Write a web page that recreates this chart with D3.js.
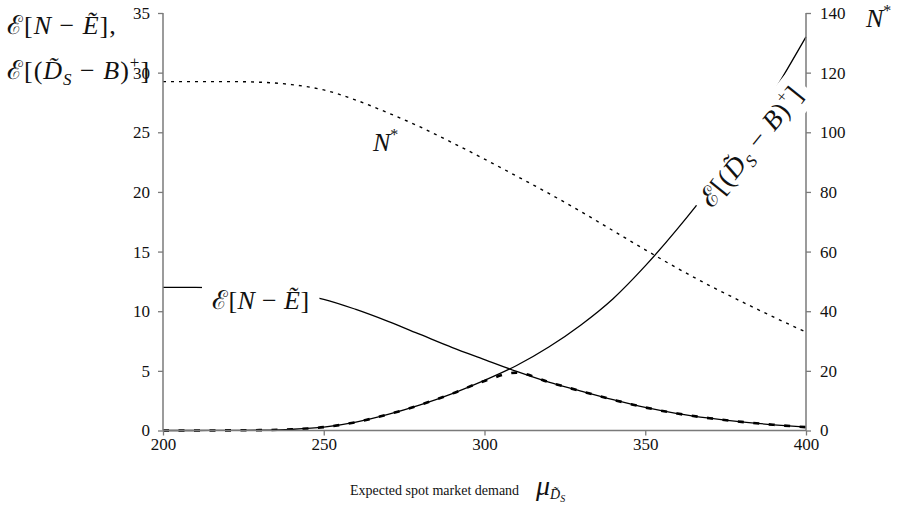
<!DOCTYPE html>
<html>
<head>
<meta charset="utf-8">
<script src="https://cdn.jsdelivr.net/npm/d3@7"></script>
<style>
  html, body { margin: 0; padding: 0; background: #fff; }
  svg { display: block; }
  text { font-family: "Liberation Serif", "DejaVu Serif", serif; fill: #111; }
</style>
</head>
<body>
<svg id="chart" width="897" height="510"></svg>
<script>
// Expected spot market demand (x values)
const demand = [200,210,220,230,240,250,260,270,280,290,300,310,320,330,340,350,360,370,380,390,400];
// E[N - Ẽ]  (left axis)
const expShortfall = [12.0,12.0,11.95,11.8,11.5,11.0,10.15,9.15,8.05,6.95,5.95,4.95,4.05,3.3,2.58,1.93,1.42,1.03,0.72,0.48,0.28];
// E[(D̃s - B)+]  (left axis)
const expExcess = [0,0,0.01,0.03,0.1,0.28,0.7,1.35,2.15,3.1,4.2,5.45,7.0,8.85,11.05,13.8,16.9,20.3,24.15,28.4,33.0];
// lower envelope of the two expectations (left axis)
const expLower = [0,0,0.01,0.03,0.1,0.28,0.7,1.35,2.15,3.1,4.15,4.85,4.05,3.3,2.58,1.93,1.42,1.03,0.72,0.48,0.28];
// optimal N* (right axis)
const nStar = [117,117,117,116.8,116,114.2,110.8,106.5,101.8,96.5,91,85.3,79.5,73.4,67.0,60.6,54.4,48.6,43.2,38.0,33.0];

const xTicks = [200,250,300,350,400];
const leftTicks = [0,5,10,15,20,25,30,35];
const rightTicks = [0,20,40,60,80,100,120,140];

const svg = d3.select("#chart");
const x = d3.scaleLinear().domain([200,400]).range([163,806]);
const yL = d3.scaleLinear().domain([0,35]).range([430.5,13]);
const yR = d3.scaleLinear().domain([0,140]).range([430.5,13]);

const axisColor = "#7a7a7a";

// ---- data lines ----
const lineL = d3.line().x((d,i)=>x(demand[i])).y(d=>yL(d)).curve(d3.curveMonotoneX);
const lineR = d3.line().x((d,i)=>x(demand[i])).y(d=>yR(d)).curve(d3.curveMonotoneX);

svg.append("path").attr("d", lineR(nStar))
  .attr("fill","none").attr("stroke","#000").attr("stroke-width",1.4)
  .attr("stroke-dasharray","3,5");

svg.append("path").attr("d", lineL(expShortfall))
  .attr("fill","none").attr("stroke","#000").attr("stroke-width",1.3);
svg.append("path").attr("d", lineL(expExcess))
  .attr("fill","none").attr("stroke","#000").attr("stroke-width",1.3);
svg.append("path").attr("d", lineL(expLower))
  .attr("fill","none").attr("stroke","#000").attr("stroke-width",2.6)
  .attr("stroke-dasharray","6,9.5");

// ---- axes ----
const gB = svg.append("g").attr("transform","translate(0,430.5)")
  .call(d3.axisBottom(x).tickValues(xTicks).tickSize(5).tickPadding(2).tickFormat(d3.format("d")));
const gL = svg.append("g").attr("transform","translate(163,0)")
  .call(d3.axisLeft(yL).tickValues(leftTicks).tickSize(5).tickPadding(8).tickFormat(d3.format("d")));
const gR = svg.append("g").attr("transform","translate(806,0)")
  .call(d3.axisRight(yR).tickValues(rightTicks).tickSize(5).tickPadding(9).tickFormat(d3.format("d")));
[gB,gL,gR].forEach(g=>{
  g.select(".domain").attr("stroke",axisColor).attr("stroke-width",1.5);
  g.selectAll(".tick line").attr("stroke",axisColor).attr("stroke-width",1.3);
  g.selectAll(".tick text").attr("font-family","Liberation Serif, serif").attr("font-size",17).attr("fill","#1a1a1a");
});
gL.select(".domain").attr("d","M0,430.5V13");
gR.select(".domain").attr("d","M0,430.5V13");
gB.select(".domain").attr("d","M163,0H806");

// ---- helper: label with white box ----
function boxedLabel(g, padX, padY) {
  const bb = g.node().getBBox();
  g.insert("rect", ":first-child")
    .attr("x", bb.x - padX).attr("y", bb.y - padY)
    .attr("width", bb.width + 2*padX).attr("height", bb.height + 2*padY)
    .attr("fill", "#fff");
}

// E[(D̃s - B)+] written into a text element
function excessLabel(t) {
  t.attr("letter-spacing", 1);
  t.append("tspan").text("ℰ");
  t.append("tspan").text("[(");
  t.append("tspan").attr("font-style","italic").text("D\u0303");
  t.append("tspan").attr("font-style","italic").attr("font-size",17).attr("dy",6).text("S");
  t.append("tspan").attr("dy",-6).text(" − ");
  t.append("tspan").attr("font-style","italic").text("B");
  t.append("tspan").text(")");
  t.append("tspan").attr("font-size",17).attr("dy",-11).text("+");
  t.append("tspan").attr("dy",11).text("]");
}

// in-plot label for E[N - Ẽ]
const lab1 = svg.append("g").attr("transform","translate(212,309)");
const t1 = lab1.append("text").attr("font-size",26).attr("letter-spacing",0.4);
t1.append("tspan").text("ℰ");
t1.append("tspan").text("[");
t1.append("tspan").attr("font-style","italic").text("N");
t1.append("tspan").text(" − ");
t1.append("tspan").attr("font-style","italic").text("Ẽ");
t1.append("tspan").text("]");
boxedLabel(lab1, 10, 2);

// in-plot label for N*
const lab2 = svg.append("g").attr("transform","translate(373,151)");
const t2 = lab2.append("text").attr("font-size",26);
t2.append("tspan").attr("font-style","italic").text("N");
t2.append("tspan").attr("font-size",16).attr("dy",-11).text("*");
boxedLabel(lab2, 9, 3);

// rotated label along E[(D̃s - B)+]
const lab3 = svg.append("g").attr("transform","translate(751,146) rotate(-51)");
const t3 = lab3.append("text").attr("font-size",27).attr("text-anchor","middle").attr("dy","0.35em");
excessLabel(t3);
boxedLabel(lab3, 7, 2);

// ---- axis titles ----
const a1 = svg.append("text").attr("x",7).attr("y",34).attr("font-size",26).attr("letter-spacing",1);
a1.append("tspan").text("ℰ");
a1.append("tspan").text("[");
a1.append("tspan").attr("font-style","italic").text("N");
a1.append("tspan").text(" − ");
a1.append("tspan").attr("font-style","italic").text("Ẽ");
a1.append("tspan").text("],");
const a2 = svg.append("text").attr("x",7).attr("y",79).attr("font-size",26);
excessLabel(a2);

// keep the "30" tick label on top of the title
gL.raise();

svg.append("text").attr("x",866).attr("y",27).attr("font-size",26)
  .call(t=>{
    t.append("tspan").attr("font-style","italic").text("N");
    t.append("tspan").attr("font-size",16).attr("dy",-11).text("*");
  });

svg.append("text").attr("x",350).attr("y",495).attr("font-size",14).text("Expected spot market demand");
const mu = svg.append("text").attr("x",536).attr("y",495);
mu.append("tspan").attr("font-size",28).attr("font-style","italic").text("μ");
mu.append("tspan").attr("font-size",14).attr("font-style","italic").attr("dy",4).text("D\u0303");
mu.append("tspan").attr("font-size",10).attr("font-style","italic").attr("dy",3).text("S");
</script>
</body>
</html>
